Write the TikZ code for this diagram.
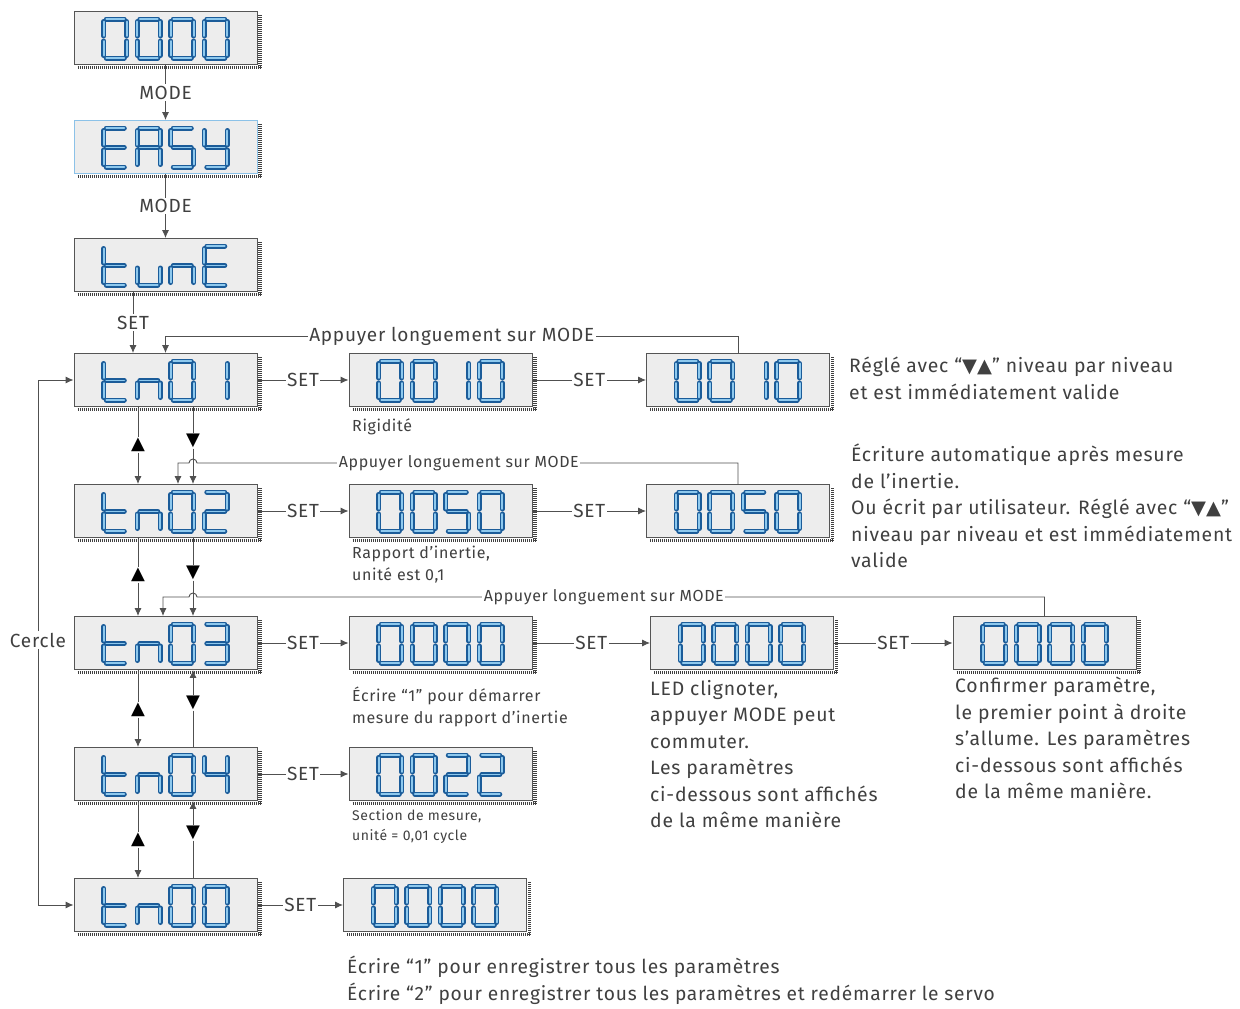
\documentclass[tikz,border=0pt]{standalone}
\usepackage{fontspec}
\setmainfont{Fira Sans}[LetterSpace=4]
\newfontfamily\symf{DejaVu Sans}
\usetikzlibrary{arrows.meta,calc}
\definecolor{txt}{HTML}{404040}
\definecolor{segdark}{HTML}{1B5C99}
\definecolor{seglight}{HTML}{8EC9EE}
\definecolor{boxfill}{HTML}{EDEDED}
\definecolor{boxline}{HTML}{555555}
\definecolor{easyline}{HTML}{8CC2E8}
\definecolor{linec}{HTML}{505050}
\def\sgZero{a,b,c,d,e,f}
\def\sgOne{b,c}
\def\sgTwo{a,b,g,e,d}
\def\sgThree{a,b,g,c,d}
\def\sgFour{f,g,b,c}
\def\sgFive{a,f,g,c,d}
\def\sgE{a,f,g,e,d}
\def\sgA{a,b,c,e,f,g}
\def\sgY{f,g,b,c,d}
\def\sgT{f,e,g,d}
\def\sgU{e,d,c}
\def\sgN{e,g,c}
\tikzset{
  seg a/.style={insert path={(2.5,0) -- (20.5,0)}},
  seg b/.style={insert path={(23,2.5) -- (23,17)}},
  seg c/.style={insert path={(23,22) -- (23,36.5)}},
  seg d/.style={insert path={(2.5,39) -- (20.5,39)}},
  seg e/.style={insert path={(0,22) -- (0,36.5)}},
  seg f/.style={insert path={(0,2.5) -- (0,17)}},
  seg g/.style={insert path={(2.5,19.5) -- (20.5,19.5)}},
  segout/.style={draw=segdark, line width=5pt, line cap=round},
  segin/.style={draw=seglight, line width=1.7pt, line cap=round},
  dbox/.style={rectangle, fill=boxfill, line width=0.9pt, minimum width=183pt, minimum height=53pt, inner sep=0pt},
  hatch/.style={draw=black!75, line width=3.5pt, dash pattern=on 0.9pt off 1.1pt},
  conn/.style={draw=linec, line width=0.9pt, -{Latex[length=8pt,width=7pt]}},
  plain/.style={draw=linec, line width=0.9pt},
  lbl/.style={text=txt, fill=white, inner sep=1.5pt, font=\fontsize{19}{22}\selectfont},
  lblsm/.style={text=txt, fill=white, inner sep=1.5pt, font=\fontsize{16}{19}\selectfont},
  tri/.style={text=black, inner sep=0.5pt, font=\symf\fontsize{18}{18}\selectfont},
  blk/.style={text=txt, anchor=north west, inner sep=0pt, align=left, font=\fontsize{19.4}{26.5}\selectfont},
  blksm/.style={text=txt, anchor=north west, inner sep=0pt, align=left, font=\fontsize{16}{22}\selectfont},
}
\newcommand\disp[5]{%
  \node[dbox, draw=#5] (#1) at (#2,#3) {};
  \draw[hatch] ($(#1.north east)+(2.5,4)$) -- ($(#1.south east)+(2.5,4)$);
  \draw[hatch] ($(#1.south west)+(4,2.5)$) -- ($(#1.south east)+(4,2.5)$);
  \foreach \ch [count=\i from 0] in {#4} {
    \edef\cur{\ch}
    \begin{scope}[shift={(#2-61.7+\i*33.5,#3-19)}]
      \foreach \s in \cur {\draw[segout, seg \s];}
      \foreach \s in \cur {\draw[segin, seg \s];}
    \end{scope}
  }
}
\begin{document}
\begin{tikzpicture}[x=1pt,y=-1pt]
\useasboundingbox (0,0) rectangle (1240,1009);
% displays
\disp{b0}{165.5}{38}{\sgZero,\sgZero,\sgZero,\sgZero}{boxline}
\disp{easy}{165.5}{147}{\sgE,\sgA,\sgFive,\sgY}{easyline}
\disp{tune}{165.5}{265}{\sgT,\sgU,\sgN,\sgE}{boxline}
\disp{t1}{165.5}{380}{\sgT,\sgN,\sgZero,\sgOne}{boxline}
\disp{t2}{165.5}{511}{\sgT,\sgN,\sgZero,\sgTwo}{boxline}
\disp{t3}{165.5}{643}{\sgT,\sgN,\sgZero,\sgThree}{boxline}
\disp{t4}{165.5}{774}{\sgT,\sgN,\sgZero,\sgFour}{boxline}
\disp{t0}{165.5}{905}{\sgT,\sgN,\sgZero,\sgZero}{boxline}
\disp{r1b}{440.5}{380}{\sgZero,\sgZero,\sgOne,\sgZero}{boxline}
\disp{r1c}{738}{380}{\sgZero,\sgZero,\sgOne,\sgZero}{boxline}
\disp{r2b}{440.5}{511}{\sgZero,\sgZero,\sgFive,\sgZero}{boxline}
\disp{r2c}{738}{511}{\sgZero,\sgZero,\sgFive,\sgZero}{boxline}
\disp{r3b}{440.5}{643}{\sgZero,\sgZero,\sgZero,\sgZero}{boxline}
\disp{r3c}{742}{643}{\sgZero,\sgZero,\sgZero,\sgZero}{boxline}
\disp{r3d}{1044.5}{643}{\sgZero,\sgZero,\sgZero,\sgZero}{boxline}
\disp{r4b}{440.5}{774}{\sgZero,\sgZero,\sgTwo,\sgTwo}{boxline}
\disp{r0b}{435}{905}{\sgZero,\sgZero,\sgZero,\sgZero}{boxline}
% top chain
\draw[conn] (b0.south) -- node[lbl] (m1) {MODE} (easy.north);
\draw[conn] (easy.south) -- node[lbl] (m2) {MODE} (tune.north);
\draw[conn] ([xshift=-32.5pt]tune.south) -- node[lbl] (s0) {SET} ([xshift=-32.5pt]t1.north);
% SET arrows
\draw[conn] (t1.east) -- node[lbl] (s11) {SET} (r1b.west);
\draw[conn] (r1b.east) -- node[lbl] (s12) {SET} (r1c.west);
\draw[conn] (t2.east) -- node[lbl] (s21) {SET} (r2b.west);
\draw[conn] (r2b.east) -- node[lbl] (s22) {SET} (r2c.west);
\draw[conn] (t3.east) -- node[lbl] (s31) {SET} (r3b.west);
\draw[conn] (r3b.east) -- node[lbl] (s32) {SET} (r3c.west);
\draw[conn] (r3c.east) -- node[lbl] (s33) {SET} (r3d.west);
\draw[conn] (t4.east) -- node[lbl] (s41) {SET} (r4b.west);
\draw[conn] (t0.east) -- node[lbl] (s01) {SET} (r0b.west);
% long press loops
\coordinate (k1) at (165.5,336);
\draw[conn] (r1c.north) -- (r1c.north |- k1) -- node[lbl] (ap1) {Appuyer longuement sur MODE} (k1) -- (t1.north);
\coordinate (k2) at (178,463);
\draw[conn] (r2c.north) -- (r2c.north |- k2) -- node[lblsm, pos=0.516] (ap2) {Appuyer longuement sur MODE} (197,463) arc[start angle=0, end angle=-180, radius=4] -- (k2) -- (k2 |- t2.north);
\coordinate (k3) at (163,597);
\draw[conn] (r3d.north) -- (r3d.north |- k3) -- node[lblsm, pos=0.52] (ap3) {Appuyer longuement sur MODE} (197,597) arc[start angle=0, end angle=-180, radius=4] -- (k3) -- (k3 |- t3.north);
% up / down keys
\node[tri] (u12) at (138,445) {▲};
\node[tri] (d12) at (193,441) {▼};
\node[tri] (u23) at (138,575) {▲};
\node[tri] (d23) at (193,573) {▼};
\node[tri] (u34) at (138,710) {▲};
\node[tri] (d34) at (193,703) {▼};
\node[tri] (u40) at (138,840) {▲};
\node[tri] (d40) at (193,833) {▼};
\draw[plain] (t1.south -| u12) -- (u12.north);
\draw[conn] (u12.south) -- (t2.north -| u12);
\draw[plain] (t1.south -| d12) -- (d12.north);
\draw[conn] (d12.south) -- (t2.north -| d12);
\draw[plain] (t2.south -| u23) -- (u23.north);
\draw[conn] (u23.south) -- (t3.north -| u23);
\draw[plain] (t2.south -| d23) -- (d23.north);
\draw[conn] (d23.south) -- (t3.north -| d23);
\draw[plain] (t3.south -| u34) -- (u34.north);
\draw[conn] (u34.south) -- (t4.north -| u34);
\draw[conn] (d34.north) -- (t3.south -| d34);
\draw[plain] (d34.south) -- (t4.north -| d34);
\draw[plain] (t4.south -| u40) -- (u40.north);
\draw[conn] (u40.south) -- (t0.north -| u40);
\draw[conn] (d40.north) -- (t4.south -| d40);
\draw[plain] (d40.south) -- (t0.north -| d40);
% cycle
\node[lbl] (cer) at (38,640) {Cercle};
\draw[conn] (cer.north) |- (t1.west);
\draw[conn] (cer.south) |- (t0.west);
% texts
\node[blksm] (tx1) at (352,418) {Rigidité};
\node[blksm] (tx2) at (352,546) {Rapport d'inertie,\\unité est 0,1};
\node[blksm] (tx3) at (352,687) {Écrire “1” pour démarrer\\mesure du rapport d'inertie};
\node[blksm, font=\fontsize{14}{20}\selectfont] (tx4) at (352,809) {Section de mesure,\\unité = 0,01 cycle};
\node[blk] (tx5) at (849,357) {Réglé avec “{\symf ▼▲}” niveau par niveau\\et est immédiatement valide};
\node[blk] (tx6) at (851,444) {Écriture automatique après mesure\\de l'inertie.\\Ou écrit par utilisateur. Réglé avec “{\symf ▼▲}”\\niveau par niveau et est immédiatement\\valide};
\node[blk] (tx7) at (650,680) {LED clignoter,\\appuyer MODE peut\\commuter.\\Les paramètres\\ci-dessous sont affichés\\de la même manière};
\node[blk] (tx8) at (955,677) {Confirmer paramètre,\\le premier point à droite\\s'allume. Les paramètres\\ci-dessous sont affichés\\de la même manière.};
\node[blk, font=\fontsize{19.2}{26.5}\selectfont] (tx9) at (347,956) {Écrire “1” pour enregistrer tous les paramètres\\Écrire “2” pour enregistrer tous les paramètres et redémarrer le servo};
\end{tikzpicture}
\end{document}
